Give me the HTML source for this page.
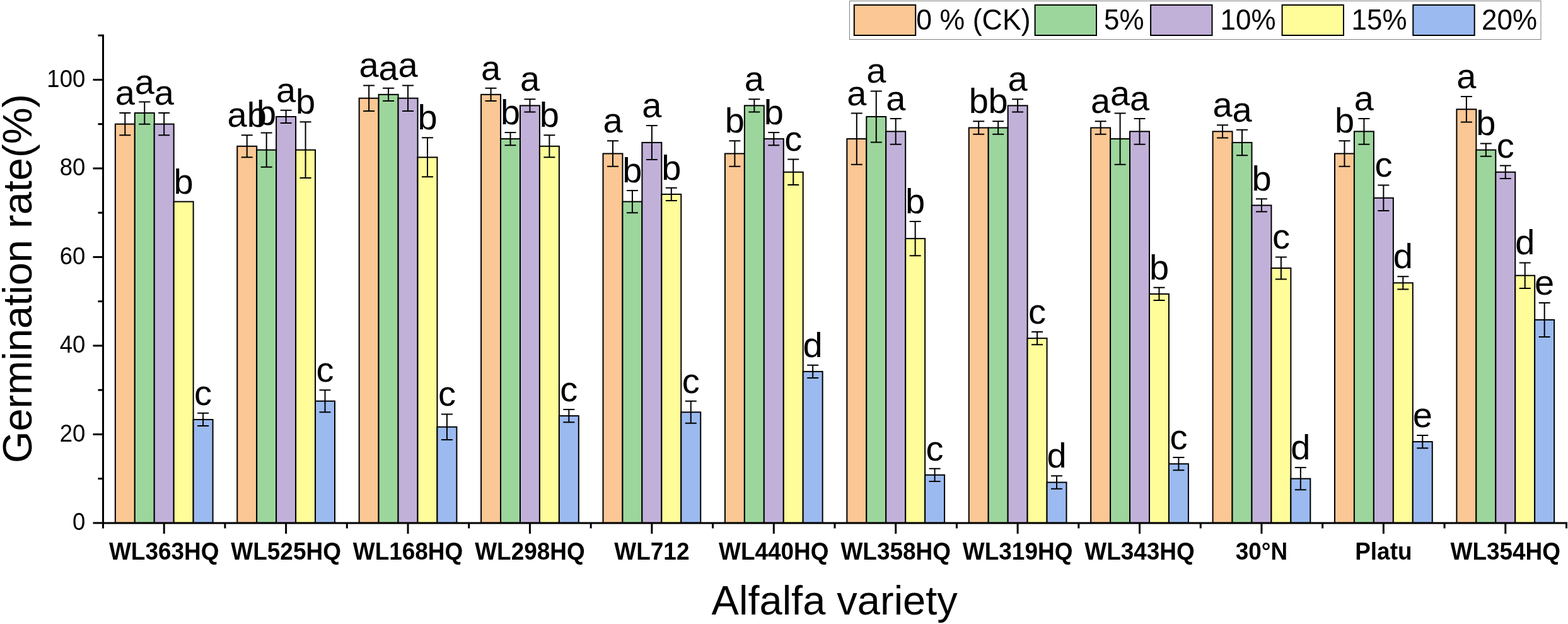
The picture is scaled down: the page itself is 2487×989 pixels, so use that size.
<!DOCTYPE html>
<html><head><meta charset="utf-8"><title>Germination rate chart</title>
<style>html,body{margin:0;padding:0;background:#fff;}body{width:2487px;height:989px;overflow:hidden;}svg{display:block;}text{font-family:"Liberation Sans",Arial,sans-serif;fill:#000;}</style>
</head><body>
<svg width="2487" height="989" viewBox="0 0 2487 989">
<rect x="0" y="0" width="2487" height="989" fill="#fff"/>
<g stroke="#000" stroke-width="2">
<rect x="182.84" y="196.65" width="30.95" height="632.25" fill="#FBC794"/>
<rect x="213.79" y="179.09" width="30.95" height="649.81" fill="#9DD69D"/>
<rect x="244.73" y="196.65" width="30.95" height="632.25" fill="#C1B1D9"/>
<rect x="275.68" y="319.59" width="30.95" height="509.31" fill="#FEFD9A"/>
<rect x="306.63" y="664.98" width="30.95" height="163.92" fill="#9BBAF0"/>
<rect x="376.26" y="231.77" width="30.95" height="597.12" fill="#FBC794"/>
<rect x="407.20" y="237.63" width="30.95" height="591.27" fill="#9DD69D"/>
<rect x="438.15" y="184.94" width="30.95" height="643.96" fill="#C1B1D9"/>
<rect x="469.10" y="237.63" width="30.95" height="591.27" fill="#FEFD9A"/>
<rect x="500.05" y="635.71" width="30.95" height="193.19" fill="#9BBAF0"/>
<rect x="569.67" y="155.67" width="30.95" height="673.23" fill="#FBC794"/>
<rect x="600.62" y="149.82" width="30.95" height="679.08" fill="#9DD69D"/>
<rect x="631.57" y="155.67" width="30.95" height="673.23" fill="#C1B1D9"/>
<rect x="662.51" y="249.34" width="30.95" height="579.56" fill="#FEFD9A"/>
<rect x="693.46" y="676.69" width="30.95" height="152.21" fill="#9BBAF0"/>
<rect x="763.09" y="149.82" width="30.95" height="679.08" fill="#FBC794"/>
<rect x="794.04" y="220.07" width="30.95" height="608.83" fill="#9DD69D"/>
<rect x="824.98" y="167.38" width="30.95" height="661.52" fill="#C1B1D9"/>
<rect x="855.93" y="231.77" width="30.95" height="597.12" fill="#FEFD9A"/>
<rect x="886.88" y="659.13" width="30.95" height="169.77" fill="#9BBAF0"/>
<rect x="956.51" y="243.48" width="30.95" height="585.42" fill="#FBC794"/>
<rect x="987.46" y="319.59" width="30.95" height="509.31" fill="#9DD69D"/>
<rect x="1018.40" y="225.92" width="30.95" height="602.98" fill="#C1B1D9"/>
<rect x="1049.35" y="307.88" width="30.95" height="521.02" fill="#FEFD9A"/>
<rect x="1080.30" y="653.27" width="30.95" height="175.62" fill="#9BBAF0"/>
<rect x="1149.92" y="243.48" width="30.95" height="585.42" fill="#FBC794"/>
<rect x="1180.87" y="167.38" width="30.95" height="661.52" fill="#9DD69D"/>
<rect x="1211.82" y="220.07" width="30.95" height="608.83" fill="#C1B1D9"/>
<rect x="1242.76" y="272.75" width="30.95" height="556.15" fill="#FEFD9A"/>
<rect x="1273.71" y="588.88" width="30.95" height="240.02" fill="#9BBAF0"/>
<rect x="1343.34" y="220.07" width="30.95" height="608.83" fill="#FBC794"/>
<rect x="1374.29" y="184.94" width="30.95" height="643.96" fill="#9DD69D"/>
<rect x="1405.23" y="208.36" width="30.95" height="620.54" fill="#C1B1D9"/>
<rect x="1436.18" y="378.13" width="30.95" height="450.77" fill="#FEFD9A"/>
<rect x="1467.13" y="752.80" width="30.95" height="76.10" fill="#9BBAF0"/>
<rect x="1536.76" y="202.50" width="30.95" height="626.40" fill="#FBC794"/>
<rect x="1567.70" y="202.50" width="30.95" height="626.40" fill="#9DD69D"/>
<rect x="1598.65" y="167.38" width="30.95" height="661.52" fill="#C1B1D9"/>
<rect x="1629.60" y="536.19" width="30.95" height="292.71" fill="#FEFD9A"/>
<rect x="1660.55" y="764.50" width="30.95" height="64.40" fill="#9BBAF0"/>
<rect x="1730.17" y="202.50" width="30.95" height="626.40" fill="#FBC794"/>
<rect x="1761.12" y="220.07" width="30.95" height="608.83" fill="#9DD69D"/>
<rect x="1792.07" y="208.36" width="30.95" height="620.54" fill="#C1B1D9"/>
<rect x="1823.01" y="465.94" width="30.95" height="362.96" fill="#FEFD9A"/>
<rect x="1853.96" y="735.23" width="30.95" height="93.67" fill="#9BBAF0"/>
<rect x="1923.59" y="208.36" width="30.95" height="620.54" fill="#FBC794"/>
<rect x="1954.54" y="225.92" width="30.95" height="602.98" fill="#9DD69D"/>
<rect x="1985.48" y="325.44" width="30.95" height="503.46" fill="#C1B1D9"/>
<rect x="2016.43" y="424.96" width="30.95" height="403.94" fill="#FEFD9A"/>
<rect x="2047.38" y="758.65" width="30.95" height="70.25" fill="#9BBAF0"/>
<rect x="2117.01" y="243.48" width="30.95" height="585.42" fill="#FBC794"/>
<rect x="2147.95" y="208.36" width="30.95" height="620.54" fill="#9DD69D"/>
<rect x="2178.90" y="313.73" width="30.95" height="515.17" fill="#C1B1D9"/>
<rect x="2209.85" y="448.38" width="30.95" height="380.52" fill="#FEFD9A"/>
<rect x="2240.80" y="700.11" width="30.95" height="128.79" fill="#9BBAF0"/>
<rect x="2310.42" y="173.23" width="30.95" height="655.67" fill="#FBC794"/>
<rect x="2341.37" y="237.63" width="30.95" height="591.27" fill="#9DD69D"/>
<rect x="2372.32" y="272.75" width="30.95" height="556.15" fill="#C1B1D9"/>
<rect x="2403.26" y="436.67" width="30.95" height="392.23" fill="#FEFD9A"/>
<rect x="2434.21" y="506.92" width="30.95" height="321.98" fill="#9BBAF0"/>
</g>
<g stroke="#000" stroke-width="2" fill="none">
<path d="M198.31 179.09V214.21M189.31 179.09h18M189.31 214.21h18"/>
<path d="M229.26 161.52V196.65M220.26 161.52h18M220.26 196.65h18"/>
<path d="M260.21 179.09V214.21M251.21 179.09h18M251.21 214.21h18"/>
<path d="M322.10 654.85V675.12M313.10 654.85h18M313.10 675.12h18"/>
<path d="M391.73 214.21V249.34M382.73 214.21h18M382.73 249.34h18"/>
<path d="M422.68 210.59V264.67M413.68 210.59h18M413.68 264.67h18"/>
<path d="M453.62 174.80V195.08M444.62 174.80h18M444.62 195.08h18"/>
<path d="M484.57 193.37V281.89M475.57 193.37h18M475.57 281.89h18"/>
<path d="M515.52 618.15V653.27M506.52 618.15h18M506.52 653.27h18"/>
<path d="M585.15 135.39V175.95M576.15 135.39h18M576.15 175.95h18"/>
<path d="M616.09 139.68V159.95M607.09 139.68h18M607.09 159.95h18"/>
<path d="M647.04 135.39V175.95M638.04 135.39h18M638.04 175.95h18"/>
<path d="M677.99 218.36V280.32M668.99 218.36h18M668.99 280.32h18"/>
<path d="M708.93 656.41V696.97M699.93 656.41h18M699.93 696.97h18"/>
<path d="M778.56 139.68V159.95M769.56 139.68h18M769.56 159.95h18"/>
<path d="M809.51 209.93V230.20M800.51 209.93h18M800.51 230.20h18"/>
<path d="M840.46 157.24V177.52M831.46 157.24h18M831.46 177.52h18"/>
<path d="M871.40 214.21V249.34M862.40 214.21h18M862.40 249.34h18"/>
<path d="M902.35 648.99V669.27M893.35 648.99h18M893.35 669.27h18"/>
<path d="M971.98 223.20V263.76M962.98 223.20h18M962.98 263.76h18"/>
<path d="M1002.93 302.02V337.15M993.93 302.02h18M993.93 337.15h18"/>
<path d="M1033.88 198.88V252.96M1024.88 198.88h18M1024.88 252.96h18"/>
<path d="M1064.82 297.74V318.02M1055.82 297.74h18M1055.82 318.02h18"/>
<path d="M1095.77 635.71V670.84M1086.77 635.71h18M1086.77 670.84h18"/>
<path d="M1165.40 223.20V263.76M1156.40 223.20h18M1156.40 263.76h18"/>
<path d="M1196.34 157.24V177.52M1187.34 157.24h18M1187.34 177.52h18"/>
<path d="M1227.29 209.93V230.20M1218.29 209.93h18M1218.29 230.20h18"/>
<path d="M1258.24 252.47V293.04M1249.24 252.47h18M1249.24 293.04h18"/>
<path d="M1289.18 578.74V599.02M1280.18 578.74h18M1280.18 599.02h18"/>
<path d="M1358.81 179.50V260.63M1349.81 179.50h18M1349.81 260.63h18"/>
<path d="M1389.76 144.38V225.50M1380.76 144.38h18M1380.76 225.50h18"/>
<path d="M1420.71 188.08V228.64M1411.71 188.08h18M1411.71 228.64h18"/>
<path d="M1451.65 351.09V405.17M1442.65 351.09h18M1442.65 405.17h18"/>
<path d="M1482.60 742.66V762.93M1473.60 742.66h18M1473.60 762.93h18"/>
<path d="M1552.23 192.37V212.64M1543.23 192.37h18M1543.23 212.64h18"/>
<path d="M1583.18 192.37V212.64M1574.18 192.37h18M1574.18 212.64h18"/>
<path d="M1614.12 157.24V177.52M1605.12 157.24h18M1605.12 177.52h18"/>
<path d="M1645.07 526.05V546.33M1636.07 526.05h18M1636.07 546.33h18"/>
<path d="M1676.02 754.37V774.64M1667.02 754.37h18M1667.02 774.64h18"/>
<path d="M1745.65 192.37V212.64M1736.65 192.37h18M1736.65 212.64h18"/>
<path d="M1776.59 179.50V260.63M1767.59 179.50h18M1767.59 260.63h18"/>
<path d="M1807.54 188.08V228.64M1798.54 188.08h18M1798.54 228.64h18"/>
<path d="M1838.49 455.80V476.08M1829.49 455.80h18M1829.49 476.08h18"/>
<path d="M1869.43 725.10V745.37M1860.43 725.10h18M1860.43 745.37h18"/>
<path d="M1939.06 198.22V218.50M1930.06 198.22h18M1930.06 218.50h18"/>
<path d="M1970.01 205.64V246.20M1961.01 205.64h18M1961.01 246.20h18"/>
<path d="M2000.96 315.30V335.58M1991.96 315.30h18M1991.96 335.58h18"/>
<path d="M2031.90 407.40V442.52M2022.90 407.40h18M2022.90 442.52h18"/>
<path d="M2062.85 741.09V776.21M2053.85 741.09h18M2053.85 776.21h18"/>
<path d="M2132.48 223.20V263.76M2123.48 223.20h18M2123.48 263.76h18"/>
<path d="M2163.43 188.08V228.64M2154.43 188.08h18M2154.43 228.64h18"/>
<path d="M2194.38 293.45V334.01M2185.38 293.45h18M2185.38 334.01h18"/>
<path d="M2225.32 438.24V458.52M2216.32 438.24h18M2216.32 458.52h18"/>
<path d="M2256.27 689.97V710.25M2247.27 689.97h18M2247.27 710.25h18"/>
<path d="M2325.90 152.95V193.51M2316.90 152.95h18M2316.90 193.51h18"/>
<path d="M2356.84 227.49V247.77M2347.84 227.49h18M2347.84 247.77h18"/>
<path d="M2387.79 262.62V282.89M2378.79 262.62h18M2378.79 282.89h18"/>
<path d="M2418.74 416.39V456.95M2409.74 416.39h18M2409.74 456.95h18"/>
<path d="M2449.68 479.88V533.96M2440.68 479.88h18M2440.68 533.96h18"/>
</g>
<g font-size="56" text-anchor="middle">
<text x="198.31" y="166.09">a</text>
<text x="229.26" y="148.52">a</text>
<text x="260.21" y="166.09">a</text>
<text x="291.15" y="306.59">b</text>
<text x="322.10" y="641.85">c</text>
<text x="391.73" y="201.21">ab</text>
<text x="422.68" y="197.59">b</text>
<text x="453.62" y="161.80">a</text>
<text x="484.57" y="180.37">b</text>
<text x="515.52" y="605.15">c</text>
<text x="585.15" y="122.39">a</text>
<text x="616.09" y="126.68">a</text>
<text x="647.04" y="122.39">a</text>
<text x="677.99" y="205.36">b</text>
<text x="708.93" y="643.41">c</text>
<text x="778.56" y="126.68">a</text>
<text x="809.51" y="196.93">b</text>
<text x="840.46" y="144.24">a</text>
<text x="871.40" y="201.21">b</text>
<text x="902.35" y="635.99">c</text>
<text x="971.98" y="210.20">a</text>
<text x="1002.93" y="289.02">b</text>
<text x="1033.88" y="185.88">a</text>
<text x="1064.82" y="284.74">b</text>
<text x="1095.77" y="622.71">c</text>
<text x="1165.40" y="210.20">b</text>
<text x="1196.34" y="144.24">a</text>
<text x="1227.29" y="196.93">b</text>
<text x="1258.24" y="239.47">c</text>
<text x="1289.18" y="565.74">d</text>
<text x="1358.81" y="166.50">a</text>
<text x="1389.76" y="131.38">a</text>
<text x="1420.71" y="175.08">a</text>
<text x="1451.65" y="338.09">b</text>
<text x="1482.60" y="729.66">c</text>
<text x="1552.23" y="179.37">b</text>
<text x="1583.18" y="179.37">b</text>
<text x="1614.12" y="144.24">a</text>
<text x="1645.07" y="513.05">c</text>
<text x="1676.02" y="741.37">d</text>
<text x="1745.65" y="179.37">a</text>
<text x="1776.59" y="166.50">a</text>
<text x="1807.54" y="175.08">a</text>
<text x="1838.49" y="442.80">b</text>
<text x="1869.43" y="712.10">c</text>
<text x="1939.06" y="185.22">a</text>
<text x="1970.01" y="192.64">a</text>
<text x="2000.96" y="302.30">b</text>
<text x="2031.90" y="394.40">c</text>
<text x="2062.85" y="728.09">d</text>
<text x="2132.48" y="210.20">b</text>
<text x="2163.43" y="175.08">a</text>
<text x="2194.38" y="280.45">c</text>
<text x="2225.32" y="425.24">d</text>
<text x="2256.27" y="676.97">e</text>
<text x="2325.90" y="139.95">a</text>
<text x="2356.84" y="214.49">b</text>
<text x="2387.79" y="249.62">c</text>
<text x="2418.74" y="403.39">d</text>
<text x="2449.68" y="466.88">e</text>
</g>
<g stroke="#000" stroke-width="3" fill="none">
<path d="M163.50 54.65V837.40"/>
<path d="M162.00 828.90H2486.00"/>
<path d="M147.50 828.90H163.50"/>
<path d="M155.50 758.65H163.50"/>
<path d="M147.50 688.40H163.50"/>
<path d="M155.50 618.15H163.50"/>
<path d="M147.50 547.90H163.50"/>
<path d="M155.50 477.65H163.50"/>
<path d="M147.50 407.40H163.50"/>
<path d="M155.50 337.15H163.50"/>
<path d="M147.50 266.90H163.50"/>
<path d="M155.50 196.65H163.50"/>
<path d="M147.50 126.40H163.50"/>
<path d="M155.50 56.15H163.50"/>
<path d="M260.21 828.90V845.90"/>
<path d="M453.62 828.90V845.90"/>
<path d="M647.04 828.90V845.90"/>
<path d="M840.46 828.90V845.90"/>
<path d="M1033.88 828.90V845.90"/>
<path d="M1227.29 828.90V845.90"/>
<path d="M1420.71 828.90V845.90"/>
<path d="M1614.12 828.90V845.90"/>
<path d="M1807.54 828.90V845.90"/>
<path d="M2000.96 828.90V845.90"/>
<path d="M2194.38 828.90V845.90"/>
<path d="M2387.79 828.90V845.90"/>
<path d="M356.92 828.90V837.40"/>
<path d="M550.33 828.90V837.40"/>
<path d="M743.75 828.90V837.40"/>
<path d="M937.17 828.90V837.40"/>
<path d="M1130.58 828.90V837.40"/>
<path d="M1324.00 828.90V837.40"/>
<path d="M1517.42 828.90V837.40"/>
<path d="M1710.83 828.90V837.40"/>
<path d="M1904.25 828.90V837.40"/>
<path d="M2097.67 828.90V837.40"/>
<path d="M2291.08 828.90V837.40"/>
<path d="M2484.50 828.90V837.40"/>
</g>
<g font-size="38.00" text-anchor="end">
<text transform="translate(135.20 840.10) scale(0.960 1)">0</text>
<text transform="translate(135.20 699.60) scale(0.960 1)">20</text>
<text transform="translate(135.20 559.10) scale(0.960 1)">40</text>
<text transform="translate(135.20 418.60) scale(0.960 1)">60</text>
<text transform="translate(135.20 278.10) scale(0.960 1)">80</text>
<text transform="translate(135.20 137.60) scale(0.960 1)">100</text>
</g>
<g font-size="39.20" font-weight="bold" text-anchor="middle">
<text transform="translate(260.21 887.30) scale(0.943 1)">WL363HQ</text>
<text transform="translate(453.62 887.30) scale(0.943 1)">WL525HQ</text>
<text transform="translate(647.04 887.30) scale(0.943 1)">WL168HQ</text>
<text transform="translate(840.46 887.30) scale(0.943 1)">WL298HQ</text>
<text transform="translate(1033.88 887.30) scale(0.943 1)">WL712</text>
<text transform="translate(1227.29 887.30) scale(0.943 1)">WL440HQ</text>
<text transform="translate(1420.71 887.30) scale(0.943 1)">WL358HQ</text>
<text transform="translate(1614.12 887.30) scale(0.943 1)">WL319HQ</text>
<text transform="translate(1807.54 887.30) scale(0.943 1)">WL343HQ</text>
<text transform="translate(2000.96 887.30) scale(0.943 1)">30°N</text>
<text transform="translate(2194.38 887.30) scale(0.943 1)">Platu</text>
<text transform="translate(2387.79 887.30) scale(0.943 1)">WL354HQ</text>
</g>
<text transform="translate(1323.70 974.00) scale(1.000 1)" font-size="65.00" text-anchor="middle">Alfalfa variety</text>
<text transform="translate(49.80 441.50) rotate(-90) scale(1.000 1)" font-size="65.00" text-anchor="middle">Germination rate(%)</text>
<rect x="1347.5" y="1.5" width="1096.5" height="61" fill="#fff" stroke="#7f7f7f" stroke-width="1"/>
<g stroke="#000" stroke-width="2">
<rect x="1354.80" y="7.90" width="97.4" height="48.1" fill="#FBC794"/>
<rect x="1641.60" y="7.90" width="97.4" height="48.1" fill="#9DD69D"/>
<rect x="1825.10" y="7.90" width="97.4" height="48.1" fill="#C1B1D9"/>
<rect x="2033.60" y="7.90" width="97.4" height="48.1" fill="#FEFD9A"/>
<rect x="2241.30" y="7.90" width="97.4" height="48.1" fill="#9BBAF0"/>
</g>
<g font-size="45.80">
<text transform="translate(1453.30 47.40) scale(0.976 1)">0 % (CK)</text>
<text transform="translate(1751.00 47.40) scale(0.960 1)">5%</text>
<text transform="translate(1935.50 47.40) scale(0.960 1)">10%</text>
<text transform="translate(2143.50 47.40) scale(0.960 1)">15%</text>
<text transform="translate(2350.00 47.40) scale(0.960 1)">20%</text>
</g>
</svg>
</body></html>
